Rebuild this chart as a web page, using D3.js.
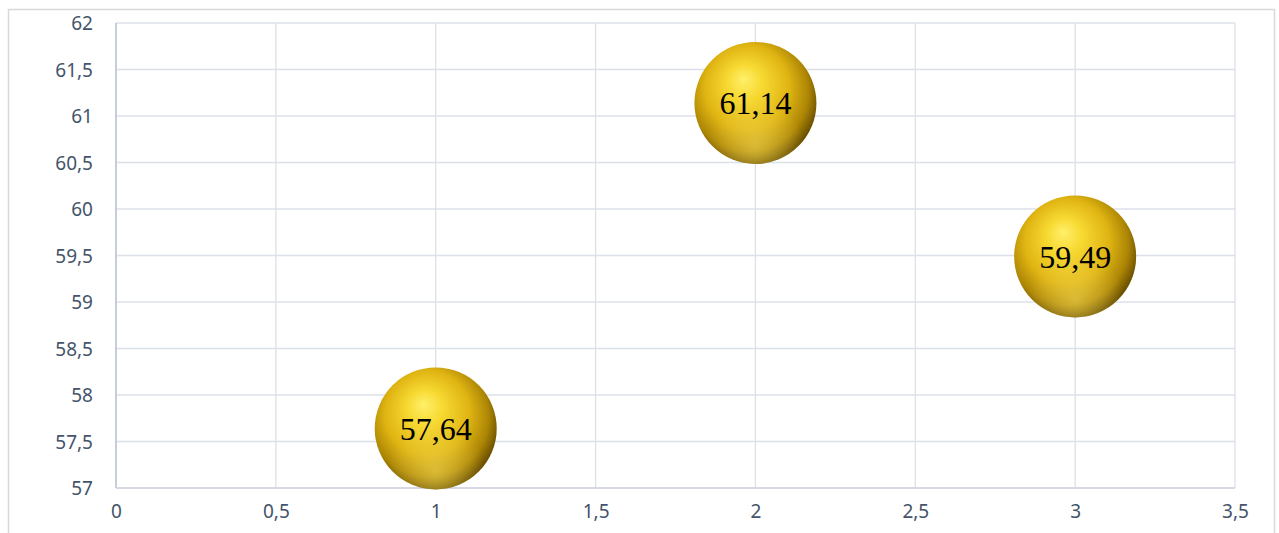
<!DOCTYPE html>
<html><head><meta charset="utf-8">
<script src="https://cdn.jsdelivr.net/npm/d3@7"></script>
<style>body{margin:0;background:#fff;}svg{display:block;}</style>
</head><body>
<svg id="c" width="1279" height="533"></svg>
<script>
const xValues = [1, 2, 3];
const yValues = [57.64, 61.14, 59.49];
const labels = ["57,64", "61,14", "59,49"];
const xTicks = [0, 0.5, 1, 1.5, 2, 2.5, 3, 3.5];
const yTicks = [57, 57.5, 58, 58.5, 59, 59.5, 60, 60.5, 61, 61.5, 62];

const svg = d3.select("#c");
const m = {left: 116, top: 23, right: 1235, bottom: 488};
const fmt = d => String(d).replace(".", ",");

const x = d3.scaleLinear().domain([0, 3.5]).range([m.left, m.right]);
const y = d3.scaleLinear().domain([57, 62]).range([m.bottom, m.top]);

// outer chart border
svg.append("rect").attr("x", 8.5).attr("y", 9.5).attr("width", 1266).attr("height", 540)
  .attr("fill", "#fff").attr("stroke", "#D9D9D9").attr("stroke-width", 1.5);

// gradient
const defs = svg.append("defs");
const g = defs.append("radialGradient").attr("id", "gold")
  .attr("cx", "45%").attr("cy", "42%").attr("r", "58%").attr("fx", "40%").attr("fy", "30%");
[["0%", "#FFF06A"], ["25%", "#F7D932"], ["60%", "#DFB412"], ["85%", "#AC8505"], ["100%", "#6A5000"]]
  .forEach(([o, c]) => g.append("stop").attr("offset", o).attr("stop-color", c));
const g2 = defs.append("radialGradient").attr("id", "refl")
  .attr("cx", "50%").attr("cy", "85%").attr("r", "40%");
g2.append("stop").attr("offset", "0%").attr("stop-color", "#F6DC5A").attr("stop-opacity", 0.55);
g2.append("stop").attr("offset", "100%").attr("stop-color", "#F6DC5A").attr("stop-opacity", 0);

// grid lines
svg.append("g").selectAll("line").data(yTicks).join("line")
  .attr("x1", m.left).attr("x2", m.right).attr("y1", d => y(d)).attr("y2", d => y(d))
  .attr("stroke", "#DCE0E8").attr("stroke-width", 1.3);
svg.append("g").selectAll("line").data(xTicks).join("line")
  .attr("x1", d => x(d)).attr("x2", d => x(d)).attr("y1", m.top).attr("y2", m.bottom)
  .attr("stroke", "#DCE0E8").attr("stroke-width", 1.3);
// axis lines
svg.append("line").attr("x1", m.left).attr("x2", m.left).attr("y1", m.top).attr("y2", m.bottom)
  .attr("stroke", "#BCC3D2").attr("stroke-width", 1.5);
svg.append("line").attr("x1", m.left).attr("x2", m.right).attr("y1", m.bottom).attr("y2", m.bottom)
  .attr("stroke", "#D0D5DF").attr("stroke-width", 1.3);

// axes labels via d3 axes
const yAxis = d3.axisLeft(y).tickValues(yTicks).tickFormat(fmt).tickSize(0).tickPadding(0);
const ya = svg.append("g").attr("transform", `translate(${m.left - 23},0)`).call(yAxis);
const xAxis = d3.axisBottom(x).tickValues(xTicks).tickFormat(fmt).tickSize(0).tickPadding(0);
const xa = svg.append("g").attr("transform", `translate(0,${m.bottom + 16})`).call(xAxis);
[ya, xa].forEach(a => {
  a.select(".domain").remove();
  a.selectAll("text").attr("fill", "#44546A").style("font-family", "'Noto Sans', sans-serif").style("font-size", "19px");
});
ya.selectAll("text").attr("dy", "0.36em");
xa.selectAll("text").attr("dy", "0.71em");

// bubbles
const r = 61;
const bg = svg.append("g").selectAll("g").data(xValues).join("g")
  .attr("transform", (d, i) => `translate(${x(d)},${y(yValues[i])})`);
bg.append("circle").attr("r", r).attr("fill", "url(#gold)");
bg.append("circle").attr("r", r).attr("fill", "url(#refl)");
bg.append("text").text((d, i) => labels[i]).attr("text-anchor", "middle").attr("dy", "0.35em")
  .style("font-family", "'Liberation Serif', 'Times New Roman', serif").style("font-size", "32px").attr("fill", "#000");
</script>
</body></html>
